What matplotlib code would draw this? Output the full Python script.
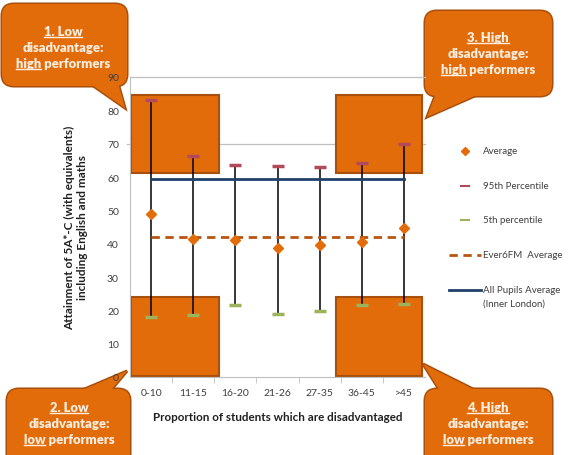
import numpy as np
import matplotlib
matplotlib.use("Agg")
import matplotlib.pyplot as plt
from matplotlib.patches import FancyBboxPatch, Polygon, Rectangle

plt.rcParams['font.family'] = ['Lato', 'DejaVu Sans']

# data
groups = ['0-10', '11-15', '16-20', '21-26', '27-35', '36-45', '>45']
average = [49.0, 41.4, 41.0, 38.8, 39.7, 40.6, 44.6]
pct95 = [83.0, 66.4, 63.6, 63.2, 63.0, 64.2, 69.9]
pct5 = [18.1, 18.5, 21.7, 18.8, 19.9, 21.7, 21.8]
ever6fm_avg = 42.0
all_pupils_avg = 59.3

ORANGE = '#E36C0A'
EDGE = '#A9500C'
TXT = '#FCEEE0'

fig = plt.figure(figsize=(5.73, 4.56), dpi=100)

# overlay in pixel units for callouts and legend
ov = fig.add_axes([0, 0, 1, 1], zorder=0)
ov.set_xlim(0, 573)
ov.set_ylim(456, 0)
ov.axis('off')

ax = fig.add_axes([130 / 573, 1 - 378 / 456, 295 / 573, 300 / 456], zorder=1)
ax.patch.set_alpha(0)

x = np.arange(len(groups))

# quadrant boxes
for x0, x1 in [(-0.48, 1.6), (4.38, 6.42)]:
    for y0, y1 in [(61.2, 84.6), (0.3, 24.0)]:
        ax.add_patch(Rectangle((x0, y0), x1 - x0, y1 - y0, facecolor=ORANGE,
                               edgecolor=EDGE, lw=1.5, zorder=1))

ax.axhline(90, color='#BFBFBF', lw=0.9, zorder=0, clip_on=False)
ax.axhline(70, color='#BFBFBF', lw=0.9, zorder=0, xmin=-0.01, clip_on=False)

ax.vlines(x, pct5, pct95, color='black', lw=1.1, zorder=3)
ax.plot(x, pct95, ls='none', marker='_', ms=8, mew=2.5, color='#B34A5C', zorder=4)
ax.plot(x, pct5, ls='none', marker='_', ms=8, mew=2.5, color='#9BB35A', zorder=4)
ax.plot([x[0], x[-1]], [all_pupils_avg] * 2, color='#21406A', lw=2, zorder=3)
ax.plot([x[0], x[-1]], [ever6fm_avg] * 2, color='#B8560F', lw=2,
        dashes=(3, 2), zorder=3)
ax.plot(x, average, ls='none', marker='D', ms=5, color=ORANGE, zorder=5)

ax.set_xlim(-0.5, 6.5)
ax.set_ylim(0, 90)
ax.set_yticks(range(0, 91, 10))
ax.set_xticks(x)
ax.set_xticklabels(groups)
ax.set_xticks(x[:-1] + 0.5, minor=True)
ax.tick_params(axis='x', which='major', length=0, pad=8, labelsize=7.5, labelcolor='#404040')
ax.tick_params(axis='x', which='minor', length=4, color='#BFBFBF', direction='out')
ax.tick_params(axis='y', length=0, pad=8, labelsize=7.5, labelcolor='#404040')
for s in ['top', 'right']:
    ax.spines[s].set_visible(False)
for s in ['left', 'bottom']:
    ax.spines[s].set_color('#BFBFBF')

ax.set_xlabel('Proportion of students which are disadvantaged', fontsize=8.4,
              fontweight='bold', color='#202020', labelpad=10)
ax.set_ylabel('Attainment of 5A*-C (with equivalents)\nincluding English and maths',
              fontsize=8.5, fontweight='bold', color='#202020', labelpad=14)

# legend drawn by hand
lc = '#404040'
ov.plot([465], [152], marker='D', ms=4, color=ORANGE)
ov.text(483, 152, 'Average', fontsize=7, color=lc, va='center')
ov.plot([461, 469], [187, 187], color='#B34A5C', lw=1.5)
ov.text(483, 187, '95th Percentile', fontsize=7, color=lc, va='center')
ov.plot([461, 469], [221, 221], color='#9BB35A', lw=1.5)
ov.text(483, 221, '5th percentile', fontsize=7, color=lc, va='center')
ov.plot([449, 481], [256, 256], color='#B8560F', lw=2, dashes=(3, 2))
ov.text(483, 256, 'Ever6FM  Average', fontsize=7, color=lc, va='center')
ov.plot([449, 481], [291, 291], color='#21406A', lw=2)
ov.text(483, 291, 'All Pupils Average', fontsize=7, color=lc, va='center')
ov.text(483, 304, '(Inner London)', fontsize=7, color=lc, va='center')

# callouts
renderer = fig.canvas.get_renderer()


def callout(box, tail, cx, y0, lines):
    bx0, by0, bx1, by1 = box
    for fill_only in (False, True):
        kw = dict(facecolor=ORANGE, edgecolor='none' if fill_only else EDGE,
                  lw=0 if fill_only else 2.2)
        ov.add_patch(FancyBboxPatch((bx0, by0), bx1 - bx0, by1 - by0,
                                    boxstyle='round,pad=0,rounding_size=12', **kw))
        ov.add_patch(Polygon(tail, closed=True, **kw))
    for i, (under, rest) in enumerate(lines):
        yb = y0 + 16 * i
        t = ov.text(cx, yb, under + rest, ha='center', va='baseline', fontsize=9.4,
                    fontweight='heavy', color=TXT, zorder=5)
        if under:
            bb = t.get_window_extent(renderer)
            tmp = ov.text(0, 0, under, fontsize=9.4, fontweight='heavy')
            w = tmp.get_window_extent(renderer).width
            tmp.remove()
            xl = ov.transData.inverted().transform((bb.x0, bb.y0))[0]
            ov.plot([xl, xl + w], [yb + 2.2, yb + 2.2], color=TXT, lw=1, zorder=5)


callout((2, 5, 127, 87), [(92, 86), (118, 84), (125, 109)], 63, 36,
        [('1. Low', ''), ('', 'disadvantage:'), ('high', ' performers')])
callout((425, 12, 552, 97), [(437, 92), (477, 96), (427, 118)], 488, 42,
        [('3. High', ''), ('', 'disadvantage:'), ('high', ' performers')])
callout((7, 390, 130, 470), [(80, 392), (112, 390), (127, 372)], 69, 412,
        [('2. Low', ''), ('', 'disadvantage:'), ('low', ' performers')])
callout((425, 390, 552, 470), [(440, 392), (477, 392), (423, 365)], 488, 412,
        [('4. High', ''), ('', 'disadvantage:'), ('low', ' performers')])

fig.savefig('out.png', dpi=100)
